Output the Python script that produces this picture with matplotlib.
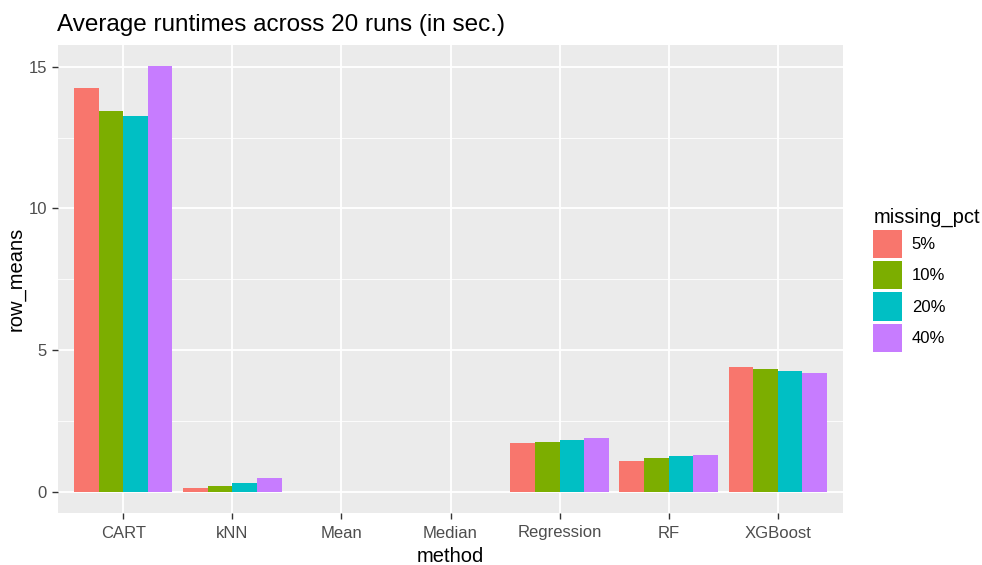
import matplotlib
matplotlib.use("Agg")
import matplotlib.pyplot as plt
from matplotlib.patches import Patch
import numpy as np

plt.rcParams['font.family'] = ['Liberation Sans', 'DejaVu Sans']

methods = ["CART", "kNN", "Mean", "Median", "Regression", "RF", "XGBoost"]
missing_pct = ["5%", "10%", "20%", "40%"]
row_means = {
    "5%":  [14.26, 0.14, 0.002, 0.003, 1.72, 1.10, 4.40],
    "10%": [13.44, 0.20, 0.002, 0.003, 1.77, 1.19, 4.35],
    "20%": [13.25, 0.31, 0.002, 0.003, 1.83, 1.25, 4.26],
    "40%": [15.02, 0.48, 0.002, 0.003, 1.91, 1.29, 4.20],
}
colors = ["#F8766D", "#7CAE00", "#00BFC4", "#C77CFF"]

fig = plt.figure(figsize=(9.82, 5.65), dpi=100)
ax = fig.add_axes([58/982, 1 - 513/565, (843 - 58)/982, (513 - 45)/565])
ax.set_facecolor("#EBEBEB")

x = np.arange(1, len(methods) + 1)
total_w = 0.9
w = total_w / len(missing_pct)
for i, (pct, col) in enumerate(zip(missing_pct, colors)):
    offs = -total_w/2 + w/2 + i*w
    ax.bar(x + offs, row_means[pct], width=w, color=col, zorder=3, linewidth=0)

ymax = max(max(v) for v in row_means.values())
ax.set_ylim(-0.05*ymax, ymax*1.05)
ax.set_xlim(0.4, len(methods) + 0.6)

ax.set_yticks([0, 5, 10, 15])
ax.set_yticks([2.5, 7.5, 12.5], minor=True)
ax.set_xticks(x)
ax.set_xticklabels(methods)
ax.grid(which="major", color="white", linewidth=1.3, zorder=0)
ax.grid(which="minor", axis="y", color="white", linewidth=0.6, zorder=0)
ax.set_axisbelow(True)
for s in ax.spines.values():
    s.set_visible(False)
ax.tick_params(axis="both", which="major", length=4, width=1, color="#333333",
               labelcolor="#4D4D4D", labelsize=12, pad=4)
ax.tick_params(axis="x", which="major", pad=5)
ax.tick_params(which="minor", length=0)

ax.set_xlabel("method", fontsize=14.5, color="black", labelpad=5)
ax.set_ylabel("row_means", fontsize=14.5, color="black", labelpad=2)
fig.text(57/982, 1 - 25.5/565, "Average runtimes across 20 runs (in sec.)",
         fontsize=17.5, color="black", va="center", ha="left")

handles = [Patch(facecolor=c, edgecolor="none") for c in colors]
leg = fig.legend(handles, missing_pct, title="missing_pct",
                 loc="upper left", bbox_to_anchor=(865/982, 1 - 199/565),
                 frameon=False, fontsize=12, title_fontsize=14.5,
                 handlelength=1.7, handleheight=2.25, labelspacing=0.18,
                 handletextpad=0.6, borderpad=0)
leg._legend_box.align = "left"

fig.savefig("out.png", dpi=100)
